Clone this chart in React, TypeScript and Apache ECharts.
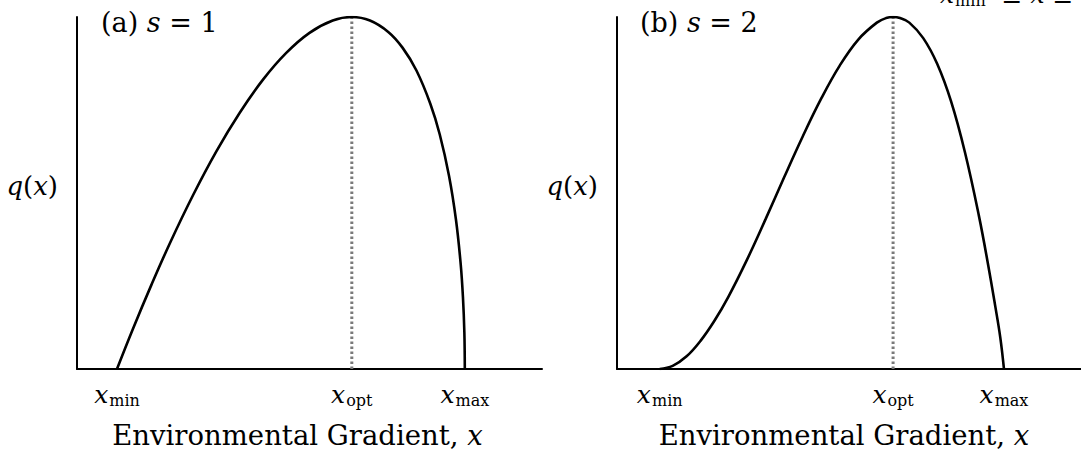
import React, { useEffect, useRef } from "react";
import * as echarts from "echarts";

// Panel meta
const panelLetters = ["(a)", "(b)"];
const shapeValues = [1, 2];
const tickNames = ["min", "opt", "max"];
const xAxisTitle = "Environmental Gradient, ";
const yAxisTitle = "q(x)";

// Marks on the gradient axis (xmin, xopt, xmax)
const leftMarks = [0.086, 0.591, 0.834];
const rightMarks = [0.092, 0.595, 0.834];

// Curve (a) s = 1
const leftX = [0.086, 0.12, 0.16, 0.2, 0.25, 0.3, 0.35, 0.4, 0.45, 0.5, 0.55, 0.591, 0.63, 0.67, 0.7, 0.73, 0.76, 0.78, 0.8, 0.815, 0.825, 0.83, 0.833, 0.834];
const leftQ = [0, 0.113, 0.239, 0.358, 0.495, 0.619, 0.728, 0.822, 0.898, 0.955, 0.99, 1, 0.99, 0.957, 0.913, 0.848, 0.753, 0.667, 0.549, 0.424, 0.3, 0.204, 0.105, 0];

// Curve (b) s = 2
const rightX = [0.092, 0.12, 0.15, 0.18, 0.21, 0.24, 0.28, 0.32, 0.36, 0.4, 0.44, 0.48, 0.52, 0.56, 0.58, 0.595, 0.61, 0.63, 0.66, 0.69, 0.72, 0.75, 0.78, 0.8, 0.815, 0.826, 0.834];
const rightQ = [0, 0.009, 0.036, 0.08, 0.137, 0.205, 0.31, 0.425, 0.544, 0.66, 0.768, 0.862, 0.936, 0.984, 0.997, 1, 0.997, 0.984, 0.94, 0.867, 0.76, 0.615, 0.435, 0.295, 0.18, 0.09, 0];

const FONT = "DejaVu Serif";

const richStyles = {
  i: { fontFamily: FONT, fontStyle: "italic", fontSize: 25, color: "#000" },
  s: { fontFamily: FONT, fontSize: 16, color: "#000", padding: [12, 0, 0, 1] },
};

export default function App() {
  const ref = useRef<HTMLDivElement>(null);

  useEffect(() => {
    if (!ref.current) return;
    const chart = echarts.init(ref.current, null, { renderer: "svg" });
    const panels = [
      { marks: leftMarks, xs: leftX, qs: leftQ },
      { marks: rightMarks, xs: rightX, qs: rightQ },
    ];
    const grids = [
      { left: 77, top: 17, width: 465, height: 352 },
      { left: 617, top: 17, width: 465, height: 352 },
    ];

    const xAxes = panels.map((p, i) => ({
      type: "value",
      gridIndex: i,
      min: 0,
      max: 1,
      axisLine: { show: true, onZero: false, lineStyle: { color: "#000", width: 2 } },
      axisTick: { show: false },
      splitLine: { show: false },
      axisLabel: {
        show: true,
        customValues: p.marks,
        margin: 11,
        formatter: (v: number) => {
          const idx = p.marks.indexOf(v);
          return "{i|x}{s|" + tickNames[idx] + "}";
        },
        rich: richStyles,
      },
      name: xAxisTitle + "{i|x}",
      nameLocation: "middle",
      nameGap: 52,
      nameTextStyle: {
        fontFamily: FONT,
        fontSize: 27.5,
        color: "#000",
        padding: i === 0 ? [0, 24, 0, 0] : [0, 10, 0, 0],
        rich: { i: { fontFamily: FONT, fontStyle: "italic", fontSize: 27.5, color: "#000" } },
      },
    }));

    const yAxes = panels.map((p, i) => ({
      type: "value",
      gridIndex: i,
      min: 0,
      max: 1,
      axisLine: { show: true, lineStyle: { color: "#000", width: 2 } },
      axisTick: { show: false },
      axisLabel: { show: false },
      splitLine: { show: false },
      name: "{i|q}({i|x})",
      nameLocation: "middle",
      nameRotate: 0,
      nameGap: 19,
      nameTextStyle: {
        fontFamily: FONT,
        fontSize: 26,
        color: "#000",
        padding: [0, 0, 14, 0],
        rich: { i: { fontFamily: FONT, fontStyle: "italic", fontSize: 26, color: "#000" } },
      },
    }));

    const series: any[] = [];
    panels.forEach((p, i) => {
      series.push({
        type: "line",
        xAxisIndex: i,
        yAxisIndex: i,
        data: [
          [p.marks[1], 0],
          [p.marks[1], 1],
        ],
        showSymbol: false,
        lineStyle: { color: "#7a7a7a", width: 3, type: [2.5, 2.5] },
        z: 1,
      });
      series.push({
        type: "line",
        xAxisIndex: i,
        yAxisIndex: i,
        data: p.xs.map((x, k) => [x, p.qs[k]]),
        showSymbol: false,
        smooth: 0.4,
        lineStyle: { color: "#000", width: 2.6 },
        z: 2,
      });
    });

    const titles = panelLetters.map((l, i) => ({
      text: l + " {i|s} = " + shapeValues[i],
      left: i === 0 ? 96 : 635,
      top: 4,
      textStyle: {
        fontFamily: FONT,
        fontSize: 27,
        fontWeight: "normal",
        color: "#000",
        rich: { i: { fontFamily: FONT, fontStyle: "italic", fontSize: 27, color: "#000" } },
      },
    }));

    chart.setOption({
      animation: false,
      backgroundColor: "#fff",
      title: titles,
      grid: grids,
      xAxis: xAxes,
      yAxis: yAxes,
      series,
      graphic: [
        {
          type: "text",
          left: 940,
          top: -18,
          style: {
            text: "{i|x}{s|min}  ≤ {i|x} ≤ {i|x}{s|max}",
            fontFamily: FONT,
            fontSize: 25,
            fill: "#000",
            rich: richStyles,
          },
        },
      ],
    });
    return () => chart.dispose();
  }, []);

  return (
    <div
      ref={ref}
      style={{ position: "absolute", left: 0, top: 0, width: 1081, height: 454, background: "#fff" }}
    />
  );
}
